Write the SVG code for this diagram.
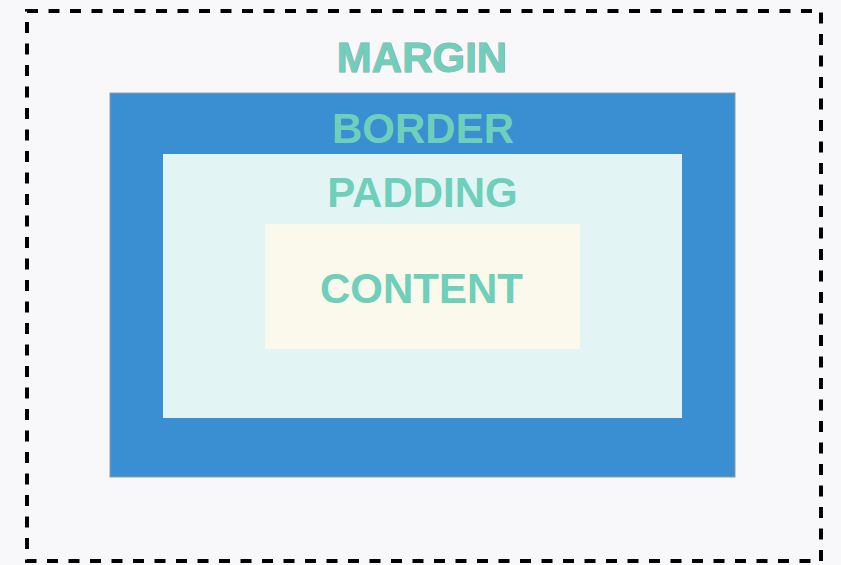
<svg xmlns="http://www.w3.org/2000/svg" width="841" height="565" viewBox="0 0 841 565">
<style>
.lbl{font-family:"Liberation Sans",Arial,sans-serif;font-weight:bold;font-size:42px;fill:#6ecfbb;text-anchor:middle}
.outl{stroke:#a0a0a0;stroke-width:1;paint-order:stroke}
</style>
<rect x="0" y="0" width="841" height="565" fill="#f8f8fa"/>
<g id="margin">
<rect x="27" y="11" width="794" height="550" fill="none" stroke="#000" stroke-width="4" stroke-dasharray="11 10.5"/>
<text class="lbl outl" x="422" y="72">MARGIN</text>
</g>
<g id="border">
<rect x="110" y="93" width="625" height="384" fill="#3a8fd3" stroke="#8a9aa8" stroke-width="1"/>
<text class="lbl" x="423" y="143">BORDER</text>
</g>
<g id="padding">
<rect x="163" y="154" width="519" height="264" fill="#e3f4f4"/>
<text class="lbl" x="422.5" y="207">PADDING</text>
</g>
<g id="content">
<rect x="265" y="224" width="315" height="125" fill="#fbf9ec"/>
<text class="lbl" x="421.5" y="303">CONTENT</text>
</g>
<g id="connectors"/>
</svg>
